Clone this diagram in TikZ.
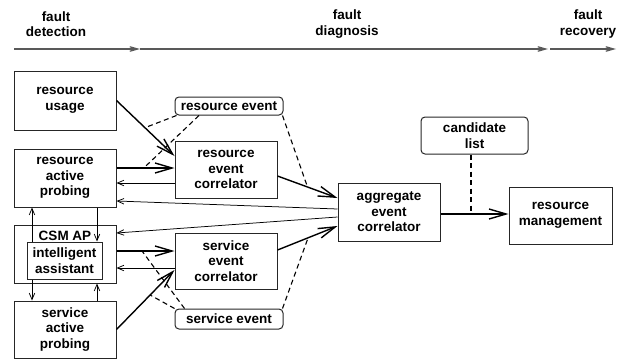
\documentclass[tikz,border=0pt]{standalone}
\usepackage{fontspec}
\setmainfont{Liberation Sans}
\usetikzlibrary{arrows.meta,calc}
\begin{document}
\begin{tikzpicture}[x=1pt,y=-1pt,
  font=\fontsize{13.5}{15.5}\selectfont\bfseries,
  box/.style={draw=black!85,line width=1pt,align=center,inner sep=0pt},
  evbox/.style={box,rounded corners=4pt},
  bigarrow/.style={line width=1.4pt,-{Straight Barb[length=17pt,width=10pt]}},
  smallarrow/.style={line width=0.75pt,-{Straight Barb[length=6.5pt,width=5.5pt]}},
  timearrow/.style={draw=black!65,line width=1.2pt,-{Straight Barb[length=8pt,width=4.5pt]}},
  evline/.style={line width=1.1pt,dash pattern=on 5pt off 3.5pt}]
\useasboundingbox (0,0) rectangle (626,361);

% time line
\node[align=center] (det) at (56,24) {fault\\detection};
\node[align=center] (dia) at (347,24) {fault\\diagnosis};
\node[align=center] (rec2) at (588,24) {fault\\recovery};
\coordinate (t0) at (14,49);
\coordinate (t1) at (140,49);
\coordinate (t2) at (548,49);
\coordinate (t3) at (616,49);
\draw[timearrow] (t0) -- (t1);
\draw[timearrow] (t1) -- (t2);
\draw[timearrow] ([xshift=2pt]t2) -- (t3);

% boxes
\node[box,minimum width=102pt,minimum height=59pt] (resusage) at (65,100.5) {resource\\usage};
\node[evbox,minimum width=108pt,minimum height=18pt] (resevent) at (229,106) {resource event};
\node[box,minimum width=102pt,minimum height=58pt] (rap) at (65,178) {resource\\active\\probing};
\node[box,minimum width=102pt,minimum height=57pt] (rec) at (226,169.5) {resource\\event\\correlator};
\node[box,minimum width=102pt,minimum height=58pt] (csm) at (65,254) {};
\node (csmlbl) at (65,235.5) {CSM AP};
\node[box,minimum width=75pt,minimum height=37pt] (ia) at (64.5,260.5) {intelligent\\assistant};
\node[box,minimum width=102pt,minimum height=56pt] (sec) at (226,261) {service\\event\\correlator};
\node[box,minimum width=102pt,minimum height=57pt] (sap) at (65,329.5) {service\\active\\probing};
\node[evbox,minimum width=108pt,minimum height=20pt] (serevent) at (229,319) {service event};
\node[box,minimum width=102pt,minimum height=58pt] (agg) at (389,212) {aggregate\\event\\correlator};
\node[evbox,minimum width=107pt,minimum height=37pt] (cand) at (474.5,135.5) {candidate\\list};
\node[box,minimum width=103pt,minimum height=57pt] (rm) at (560.5,215.5) {resource\\management};

% arrow end points
\coordinate (a1s) at (resusage.east);
\coordinate (a1e) at ([yshift=13.5pt]rec.west);
\coordinate (a2s) at ([yshift=10pt]rap.east);
\coordinate (a2e) at (a2s -| rec.west);
\coordinate (a4s) at ([yshift=-6.5pt]rec.east);
\coordinate (a4e) at ([yshift=14pt]agg.west);
\coordinate (a7s) at ([yshift=3pt]csm.east);
\coordinate (a7e) at (a7s -| sec.west);
\coordinate (a9s) at (sap.east);
\coordinate (a9e) at ([yshift=-9pt]sec.west);
\coordinate (a10s) at ([yshift=11pt]sec.east);
\coordinate (a10e) at ([yshift=-14pt]agg.west);
\coordinate (aggout) at ([yshift=-2pt]agg.east);

% main arrows
\draw[bigarrow] (a1s) -- (a1e);
\draw[bigarrow] (a2s) -- (a2e);
\draw[smallarrow] ([yshift=-5pt]rap.east -| rec.west) -- ([yshift=-5pt]rap.east);
\draw[bigarrow] (a4s) -- (a4e);
\draw[smallarrow] ([yshift=3pt]agg.west) -- ([yshift=-23pt]rap.east);
\draw[smallarrow] ([yshift=-5pt]agg.west) -- ([yshift=21pt]csm.east);
\draw[bigarrow] (a7s) -- (a7e);
\draw[smallarrow] ([yshift=-14pt]csm.east -| sec.west) -- ([yshift=-14pt]csm.east);
\draw[bigarrow] (a9s) -- (a9e);
\draw[bigarrow] (a10s) -- (a10e);
\draw[bigarrow] (aggout) -- (aggout -| rm.west);

% vertical arrows
\draw[smallarrow] ([xshift=-32.5pt]ia.north) -- ([xshift=-32.5pt]ia.north |- rap.south);
\draw[smallarrow] ([xshift=32.5pt]ia.north |- rap.south) -- ([xshift=32.5pt]ia.north);
\draw[smallarrow] ([xshift=-32.5pt]ia.south) -- ([xshift=-32.5pt]ia.south |- sap.north);
\draw[smallarrow] ([xshift=32.5pt]ia.south |- sap.north) -- ([xshift=32.5pt]ia.south |- csm.south);

% event annotations
\draw[evline] ([xshift=2pt]resevent.south west) -- ($(a1s)!0.49!(a1e)$);
\draw[evline] ([xshift=-30pt]resevent.south) -- ($(a2s)!0.47!(a2e)$);
\draw[evline] ([xshift=-1pt]resevent.south east) -- ($(a4s)!0.5!(a4e)$);
\draw[evline] ([xshift=10pt]serevent.north west) -- ($(a7s)!0.44!(a7e)$);
\draw[evline] (serevent.north west) -- ($(a9s)!0.58!(a9e)$);
\draw[evline] ([xshift=-1pt]serevent.north east) -- ($(a10s)!0.51!(a10e)$);
\draw[evline] ([xshift=-3.5pt]cand.south) -- ([xshift=-3.5pt]cand.south |- aggout);
\end{tikzpicture}
\end{document}
